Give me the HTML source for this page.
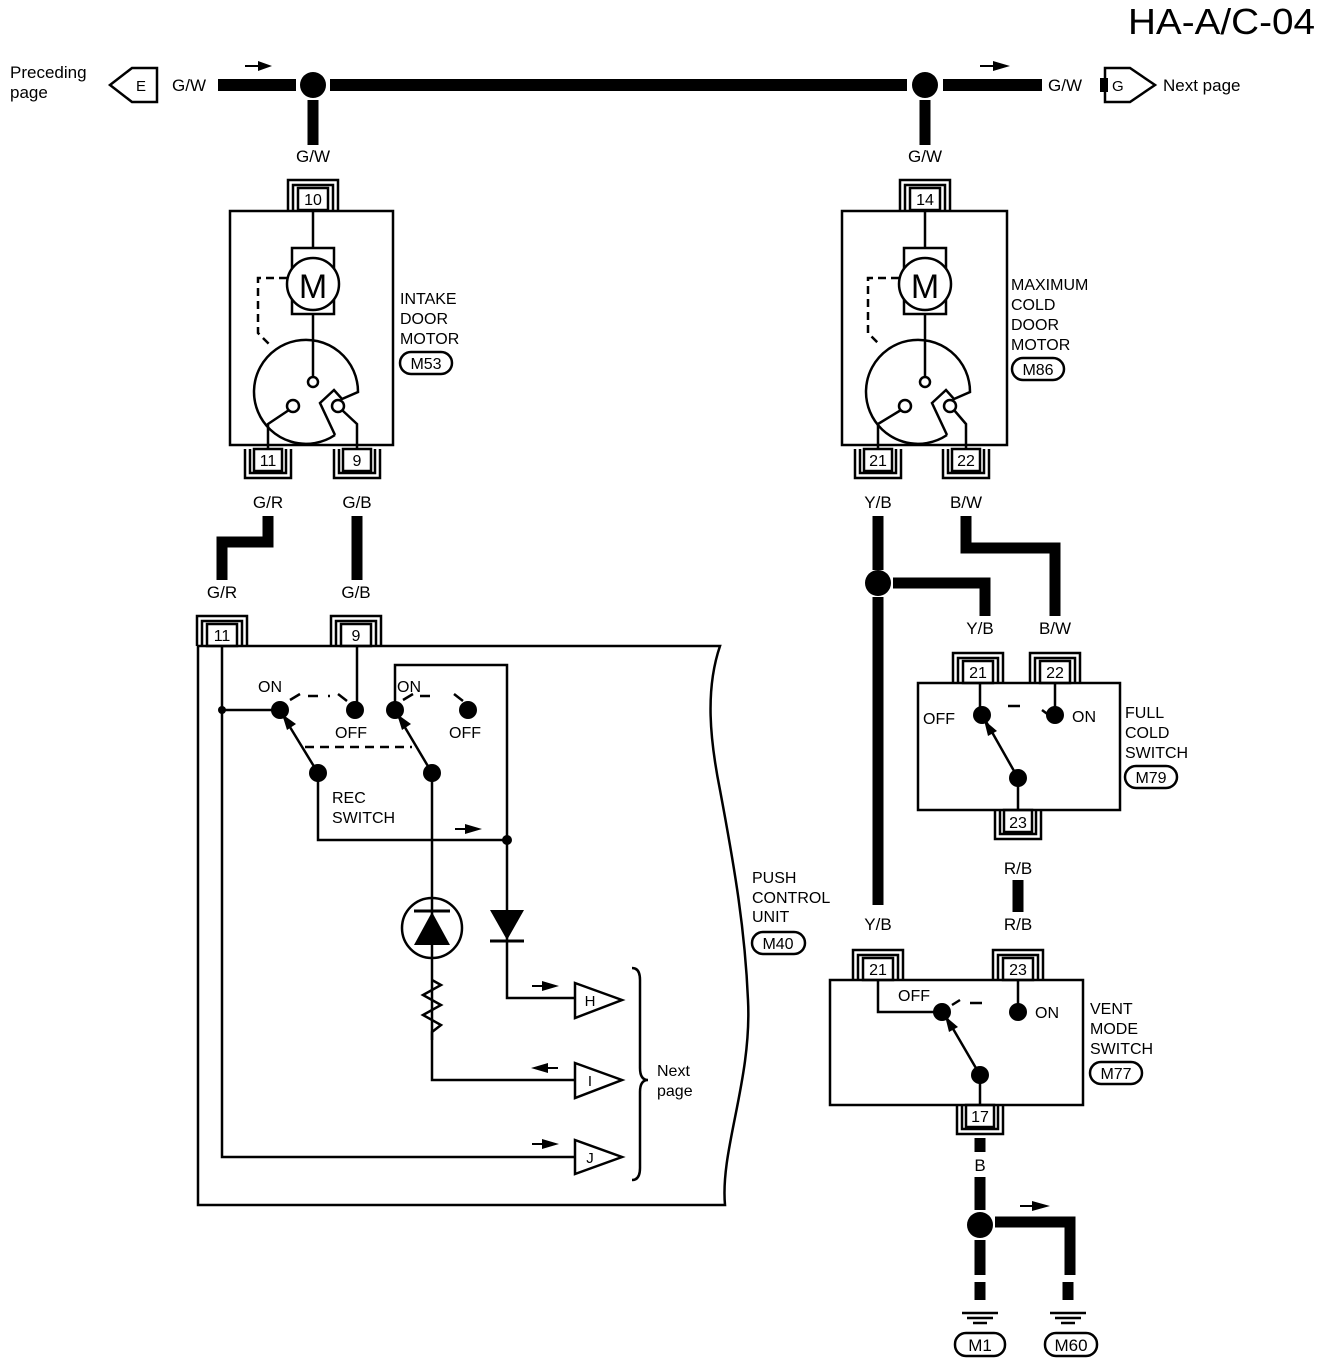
<!DOCTYPE html>
<html><head><meta charset="utf-8"><style>
html,body{margin:0;padding:0;background:#fff}
svg{display:block}
text{font-family:"Liberation Sans",sans-serif;fill:#000}
</style></head><body>
<svg width="1328" height="1366" viewBox="0 0 1328 1366" xmlns="http://www.w3.org/2000/svg">
<g font-size="17">
<text x="1128" y="34" font-size="36" textLength="187" lengthAdjust="spacingAndGlyphs">HA-A/C-04</text>
<!-- top bus -->
<g stroke="#000" fill="none">
<line x1="218" y1="85" x2="296" y2="85" stroke-width="12"/>
<line x1="330" y1="85" x2="907" y2="85" stroke-width="12"/>
<line x1="943" y1="85" x2="1042" y2="85" stroke-width="12"/>
<line x1="313" y1="100" x2="313" y2="145" stroke-width="11"/>
<line x1="925" y1="100" x2="925" y2="145" stroke-width="11"/>
</g>
<circle cx="313" cy="85" r="13"/><circle cx="925" cy="85" r="13"/>
<text x="10" y="78">Preceding</text><text x="10" y="98">page</text>
<path d="M110 85 L132 68 H157 V102 H132 Z" fill="#fff" stroke="#000" stroke-width="2.5"/>
<text x="136" y="91" font-size="15">E</text>
<text x="172" y="91">G/W</text>
<path d="M245 66 H262" stroke="#000" stroke-width="2"/><path d="M258 61 L272 66 L258 71Z"/>
<path d="M980 66 H997" stroke="#000" stroke-width="2"/><path d="M993 61 L1010 66 L993 71Z"/>
<text x="1048" y="91">G/W</text>
<path d="M1105 68 H1130 L1155 85 L1130 102 H1105 Z" fill="#fff" stroke="#000" stroke-width="2.5"/>
<path d="M1100 78 H1108 V92 H1100Z"/>
<text x="1112" y="91" font-size="15">G</text>
<text x="1163" y="91">Next page</text>

<g fill="none" stroke="#000" stroke-width="2.5">
<rect x="298" y="188" width="30" height="22" fill="#fff"/>
<path d="M288 210 V180 H338 V210 M293 210 V185 H333 V210"/>
<rect x="910" y="188" width="30" height="22" fill="#fff"/>
<path d="M900 210 V180 H950 V210 M905 210 V185 H945 V210"/>
<rect x="254" y="449" width="28" height="22" fill="#fff"/>
<path d="M245 449 V478 H291 V449 M250 449 V473 H286 V449"/>
<rect x="343" y="449" width="28" height="22" fill="#fff"/>
<path d="M334 449 V478 H380 V449 M339 449 V473 H375 V449"/>
<rect x="864" y="449" width="28" height="22" fill="#fff"/>
<path d="M855 449 V478 H901 V449 M860 449 V473 H896 V449"/>
<rect x="952" y="449" width="28" height="22" fill="#fff"/>
<path d="M943 449 V478 H989 V449 M948 449 V473 H984 V449"/>
<rect x="207" y="624" width="30" height="22" fill="#fff"/>
<path d="M197 646 V616 H247 V646 M202 646 V621 H242 V646"/>
<rect x="341" y="624" width="30" height="22" fill="#fff"/>
<path d="M331 646 V616 H381 V646 M336 646 V621 H376 V646"/>
<rect x="963" y="661" width="30" height="22" fill="#fff"/>
<path d="M953 683 V653 H1003 V683 M958 683 V658 H998 V683"/>
<rect x="1040" y="661" width="30" height="22" fill="#fff"/>
<path d="M1030 683 V653 H1080 V683 M1035 683 V658 H1075 V683"/>
<rect x="1004" y="810" width="28" height="22" fill="#fff"/>
<path d="M995 810 V839 H1041 V810 M1000 810 V834 H1036 V810"/>
<rect x="863" y="958" width="30" height="22" fill="#fff"/>
<path d="M853 980 V950 H903 V980 M858 980 V955 H898 V980"/>
<rect x="1003" y="958" width="30" height="22" fill="#fff"/>
<path d="M993 980 V950 H1043 V980 M998 980 V955 H1038 V980"/>
<rect x="966" y="1105" width="28" height="22" fill="#fff"/>
<path d="M957 1105 V1134 H1003 V1105 M962 1105 V1129 H998 V1105"/>
</g>
<g font-size="16" text-anchor="middle">
<text x="313" y="205">10</text><text x="925" y="205">14</text>
<text x="268" y="466">11</text><text x="357" y="466">9</text>
<text x="878" y="466">21</text><text x="966" y="466">22</text>
<text x="222" y="641">11</text><text x="356" y="641">9</text>
<text x="978" y="678">21</text><text x="1055" y="678">22</text>
<text x="1018" y="828">23</text>
<text x="878" y="975">21</text><text x="1018" y="975">23</text>
<text x="980" y="1122">17</text>
</g>

<g text-anchor="middle">
<text x="313" y="162">G/W</text><text x="925" y="162">G/W</text>
<text x="268" y="508">G/R</text><text x="357" y="508">G/B</text>
<text x="878" y="508">Y/B</text><text x="966" y="508">B/W</text>
<text x="222" y="598">G/R</text><text x="356" y="598">G/B</text>
<text x="980" y="634">Y/B</text><text x="1055" y="634">B/W</text>
<text x="1018" y="874">R/B</text><text x="1018" y="930">R/B</text>
<text x="878" y="930">Y/B</text>
<text x="980" y="1171">B</text>
<text x="980" y="1296">B</text><text x="1068" y="1296">B</text>
</g>

<g stroke="#000" fill="none" stroke-width="11">
<path d="M268 516 V542 H222 V580"/>
<path d="M357 516 V580"/>
<path d="M878 516 V570 M878 597 V905"/>
<path d="M893 583 H985 V616"/>
<path d="M966 516 V548 H1055 V616"/>
<path d="M1018 880 V912"/>
<path d="M980 1138 V1152 M980 1177 V1210 M980 1240 V1275"/>
<path d="M995 1222 H1070 V1275"/>
<path d="M980 1282 V1300 M1068 1282 V1300"/>
</g>
<circle cx="878" cy="583" r="13"/>
<circle cx="980" cy="1225" r="13"/>
<path d="M1020 1206 H1035" stroke="#000" stroke-width="2"/><path d="M1032 1201 L1050 1206 L1032 1211Z"/>
<g stroke="#000" stroke-width="2.5">
<path d="M962 1313 H998 M967 1318 H993 M973 1323 H987"/>
<path d="M1050 1313 H1086 M1055 1318 H1081 M1061 1323 H1075"/>
</g>
<g fill="none" stroke="#000" stroke-width="2.5">
<rect x="955" y="1333" width="50" height="23" rx="11"/>
<rect x="1045" y="1333" width="52" height="23" rx="11"/>
</g>
<text x="980" y="1351" text-anchor="middle">M1</text>
<text x="1071" y="1351" text-anchor="middle">M60</text>

<g fill="none" stroke="#000" stroke-width="2.5">
<rect x="230" y="211" width="163" height="234"/>
<line x1="313" y1="210" x2="313" y2="248"/>
<rect x="292" y="248" width="42" height="66"/>
<circle cx="313" cy="284" r="26" fill="#fff"/>
<path d="M287 278 H258 V333 L270 345" stroke-dasharray="8,5"/>
<line x1="313" y1="314" x2="313" y2="378"/>
<circle cx="313" cy="382" r="5"/>
<path d="M335 435 A52 52 0 1 1 358 392 L342 399 L334 390 L320 403 L335 435"/>
<circle cx="293" cy="406" r="6"/>
<circle cx="338" cy="406" r="6"/>
<path d="M289 410 L268 424 V449 M342 410 L357 424 V449"/>

<rect x="842" y="211" width="165" height="234"/>
<line x1="925" y1="210" x2="925" y2="248"/>
<rect x="904" y="248" width="42" height="66"/>
<circle cx="925" cy="284" r="26" fill="#fff"/>
<path d="M899 278 H868 V333 L880 345" stroke-dasharray="8,5"/>
<line x1="925" y1="314" x2="925" y2="378"/>
<circle cx="925" cy="382" r="5"/>
<path d="M947 435 A52 52 0 1 1 970 392 L954 399 L946 390 L932 403 L947 435"/>
<circle cx="905" cy="406" r="6"/>
<circle cx="950" cy="406" r="6"/>
<path d="M901 410 L878 424 V449 M954 410 L966 424 V449"/>
</g>
<text x="313" y="298" text-anchor="middle" font-size="34">M</text>
<text x="925" y="298" text-anchor="middle" font-size="34">M</text>
<g font-size="16">
<text x="400" y="304">INTAKE</text><text x="400" y="324">DOOR</text><text x="400" y="344">MOTOR</text>
<text x="1011" y="290">MAXIMUM</text><text x="1011" y="310">COLD</text><text x="1011" y="330">DOOR</text><text x="1011" y="350">MOTOR</text>
</g>
<g fill="none" stroke="#000" stroke-width="2.5">
<rect x="400" y="352" width="52" height="22" rx="11"/>
<rect x="1012" y="358" width="52" height="22" rx="11"/>
</g>
<text x="426" y="369" text-anchor="middle" font-size="16">M53</text>
<text x="1038" y="375" text-anchor="middle" font-size="16">M86</text>

<path d="M198 646 H720 C705 690 710 740 720 790 C735 870 745 930 748 1000 C752 1080 720 1150 725 1205 H198 Z" fill="none" stroke="#000" stroke-width="2.5"/>
<g font-size="16">
<text x="752" y="883">PUSH</text><text x="752" y="903">CONTROL</text><text x="752" y="922">UNIT</text>
<text x="657" y="1076">Next</text><text x="657" y="1096">page</text>
<text x="258" y="692">ON</text><text x="397" y="692">ON</text>
<text x="335" y="738">OFF</text><text x="449" y="738">OFF</text>
<text x="332" y="803">REC</text><text x="332" y="823">SWITCH</text>
</g>
<rect x="752" y="932" width="53" height="22" rx="11" fill="none" stroke="#000" stroke-width="2.5"/>
<text x="778" y="949" text-anchor="middle" font-size="16">M40</text>
<g fill="none" stroke="#000" stroke-width="2.5">
<path d="M222 646 V1157 H575"/>
<path d="M222 710 H280"/>
<path d="M357 646 V710"/>
<path d="M395 710 V665 H507 V998 H575"/>
<path d="M318 773 V840 H507"/>
<path d="M432 773 V1080 H575"/>
<path d="M318 773 L282 714 M432 773 L397 714"/>
<path d="M290 700 L300 694 M347 701 L338 694 M403 700 L413 694 M463 701 L454 694"/>
<path d="M305 747 H412" stroke-dasharray="9,6"/>
<path d="M308 696 H330 M420 696 H440" stroke-dasharray="10,10"/>
<circle cx="432" cy="928" r="30" fill="#fff"/>
<path d="M432 898 V958"/>
<path d="M432 980 L441 985 L423 995 L441 1005 L423 1015 L441 1025 L432 1032 V1040"/>
<path d="M575 983 L622 1000 L575 1018 Z M575 1063 L622 1080 L575 1098 Z M575 1140 L622 1157 L575 1174 Z"/>
<path d="M632 968 Q640 968 640 980 V1068 Q640 1080 648 1080 Q640 1080 640 1092 V1168 Q640 1180 632 1180"/>
</g>
<g text-anchor="middle" font-size="15"><text x="590" y="1006">H</text><text x="590" y="1086">I</text><text x="590" y="1163">J</text></g>
<circle cx="222" cy="710" r="4"/><circle cx="507" cy="840" r="5"/>
<circle cx="280" cy="710" r="9"/><circle cx="355" cy="710" r="9"/><circle cx="395" cy="710" r="9"/><circle cx="468" cy="710" r="9"/>
<circle cx="318" cy="773" r="9"/><circle cx="432" cy="773" r="9"/>
<path d="M282 714 L287 730 L296 724Z M397 714 L402 730 L411 724Z"/>
<path d="M414 945 H450 L432 912Z"/>
<path d="M414 911 H450" stroke="#000" stroke-width="3"/>
<path d="M490 910 H524 L507 940Z"/><path d="M490 941 H524" stroke="#000" stroke-width="3"/>
<path d="M455 829 H468" stroke="#000" stroke-width="2"/><path d="M465 824 L482 829 L465 834Z"/>
<path d="M532 986 H545" stroke="#000" stroke-width="2"/><path d="M542 981 L559 986 L542 991Z"/>
<path d="M545 1068 H558" stroke="#000" stroke-width="2"/><path d="M548 1063 L531 1068 L548 1073Z"/>
<path d="M532 1144 H545" stroke="#000" stroke-width="2"/><path d="M542 1139 L559 1144 L542 1149Z"/>

<g fill="none" stroke="#000" stroke-width="2.5">
<rect x="918" y="683" width="202" height="127"/>
<path d="M980 683 V715 M1055 683 V715 M1018 778 V810 M1018 778 L984 718"/>
<path d="M1008 706 H1020 M1042 710 L1050 716"/>
<rect x="830" y="980" width="253" height="125"/>
<path d="M878 980 V1012 H942 M1018 980 V1012 M980 1075 V1105 M980 1075 L945 1015"/>
<path d="M970 1003 H982 M952 1005 L960 1000"/>
</g>
<circle cx="982" cy="715" r="9"/><circle cx="1055" cy="715" r="9"/><circle cx="1018" cy="778" r="9"/>
<path d="M984 720 L988 736 L997 731Z"/>
<circle cx="942" cy="1012" r="9"/><circle cx="1018" cy="1012" r="9"/><circle cx="980" cy="1075" r="9"/>
<path d="M945 1016 L949 1032 L958 1027Z"/>
<g font-size="16">
<text x="923" y="724">OFF</text><text x="1072" y="722">ON</text>
<text x="1125" y="718">FULL</text><text x="1125" y="738">COLD</text><text x="1125" y="758">SWITCH</text>
<text x="898" y="1001">OFF</text><text x="1035" y="1018">ON</text>
<text x="1090" y="1014">VENT</text><text x="1090" y="1034">MODE</text><text x="1090" y="1054">SWITCH</text>
</g>
<g fill="none" stroke="#000" stroke-width="2.5">
<rect x="1125" y="766" width="52" height="22" rx="11"/>
<rect x="1090" y="1062" width="52" height="22" rx="11"/>
</g>
<text x="1151" y="783" text-anchor="middle" font-size="16">M79</text>
<text x="1116" y="1079" text-anchor="middle" font-size="16">M77</text>
</g>
</svg>
</body></html>
